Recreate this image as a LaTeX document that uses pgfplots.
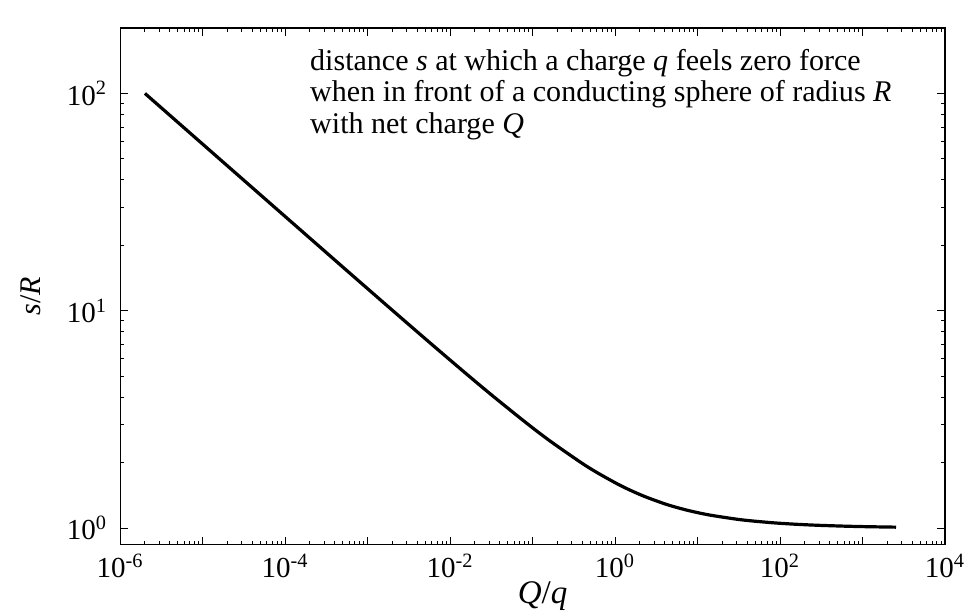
\documentclass[border=0pt]{standalone}
\usepackage{fontspec}
\setmainfont{Liberation Serif}
\usepackage{pgfplots}
\pgfplotsset{compat=1.18}

\begin{document}
\begin{tikzpicture}
  \begin{axis}[
      name=ax,
      scale only axis,
      width=412pt, height=258pt,
      xmode=log, ymode=log,
      xmin=1e-6, xmax=1e4,
      ymin=0.84, ymax=200,
      xtick={1e-6,1e-5,1e-4,1e-3,1e-2,1e-1,1,1e1,1e2,1e3,1e4},
      xticklabels={10\textsuperscript{-6},,10\textsuperscript{-4},,10\textsuperscript{-2},,10\textsuperscript{0},,10\textsuperscript{2},,10\textsuperscript{4}},
      ytick={1,10,100},
      yticklabels={10\textsuperscript{0},10\textsuperscript{1},10\textsuperscript{2}},
      tick align=inside,
      major tick length=4pt,
      minor tick length=2pt,
      axis line style={line width=0.6pt},
      every tick/.style={black, line width=0.5pt},
      ticklabel style={font=\fontsize{14.5}{16}\selectfont},
      xticklabel style={yshift=-1pt},
      yticklabel style={xshift=-3pt},
      xlabel={\fontsize{16.5}{18}\selectfont\textit{Q}/\textit{q}},
      ylabel={\fontsize{15}{17}\selectfont\textit{s}/\textit{R}},
      xlabel style={yshift=5pt, xshift=5pt},
      ylabel style={yshift=6pt, xshift=-5pt},
    ]

    \addplot[black, line width=1.6pt, smooth] coordinates {
      (2.0e-6, 100)
      (5.83e-6, 70)
      (1.6e-5, 50)
      (7.42e-5, 30)
      (2.51e-4, 20)
      (5.96e-4, 15)
      (2.03e-3, 10)
      (6.015e-3, 7)
      (1.701e-2, 5)
      (3.444e-2, 4)
      (8.854e-2, 3)
      (0.1669, 2.5)
      (0.3889, 2)
      (0.6068, 1.8)
      (1.058, 1.6)
      (1.493, 1.5)
      (2.263, 1.4)
      (3.845, 1.3)
      (5.373, 1.25)
      (8.092, 1.2)
      (13.75, 1.15)
      (29.27, 1.1)
      (44.57, 1.08)
      (77.02, 1.06)
      (109.2, 1.05)
      (168.0, 1.04)
      (293.7, 1.03)
      (649.2, 1.02)
      (1143.6, 1.015)
      (2549, 1.01)
    };

    \node[anchor=north west, align=left, inner sep=0pt,
          font=\fontsize{15}{15.7}\selectfont]
      at (rel axis cs:0.230,0.96)
      {distance \textit{s} at which a charge \textit{q} feels zero force\\
       when in front of a conducting sphere of radius \textit{R}\\
       with net charge \textit{Q}};
  \end{axis}
  \pgfresetboundingbox
  \path[use as bounding box]
    ([shift={(-60pt,-35pt)}]ax.south west) rectangle
    ([shift={(12pt,14pt)}]ax.north east);
\end{tikzpicture}
\end{document}
